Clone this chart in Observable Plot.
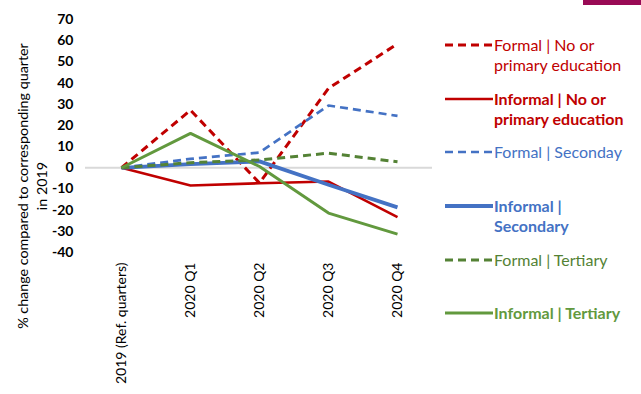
<!DOCTYPE html>
<html>
<head>
<meta charset="utf-8">
<script src="https://cdn.jsdelivr.net/npm/d3@7"></script>
<script src="https://cdn.jsdelivr.net/npm/@observablehq/plot@0.6"></script>
<style>
  html, body { margin:0; padding:0; background:#fff; }
  #wrap { position:relative; width:641px; height:394px; overflow:hidden; font-family: Lato, "Open Sans", sans-serif; }
  .leg { position:absolute; left:494px; font-size:16px; line-height:20px; white-space:nowrap; }
  .legline { position:absolute; left:445px; }
  #ytitle { position:absolute; width:320px; left:-128.5px; top:167px; line-height:19px; font-size:14.3px; text-align:center; transform:rotate(-90deg); transform-origin:center center; color:#000; }
  #topbar { position:absolute; left:583px; top:0; width:58px; height:5px; background:#990a55; }
</style>
</head>
<body>
<div id="wrap"></div>
<script>
const categories = ["2019 (Ref. quarters)", "2020 Q1", "2020 Q2", "2020 Q3", "2020 Q4"];
const formalNoPrimary   = [0, 27.2, -7.2, 37.5, 58.5];
const informalNoPrimary = [0, -8.4, -7.3, -6.5, -23.3];
const formalSecondary   = [0, 4.2, 7.2, 29.4, 24.5];
const informalSecondary = [0, 1.7, 3.0, -8.0, -18.7];
const formalTertiary    = [0, 2.4, 3.7, 6.9, 2.8];
const informalTertiary  = [0, 16.2, 0.6, -21.4, -31.3];
const yTicks = [-40, -30, -20, -10, 0, 10, 20, 30, 40, 50, 60, 70];
const seriesNames = ["Formal | No or primary education", "Informal | No or primary education", "Formal | Seconday", "Informal | Secondary", "Formal | Tertiary", "Informal | Tertiary"];
const seriesValues = [formalNoPrimary, informalNoPrimary, formalSecondary, informalSecondary, formalTertiary, informalTertiary];
const seriesColors = ["#C00000", "#C00000", "#4472C4", "#4472C4", "#548235", "#62993E"];
const seriesDash = ["8,5", null, "8,5", null, "8,5", null];
const seriesWidth = [3, 2.6, 2.7, 3.8, 3, 3];

const data = seriesNames.flatMap((name, s) => seriesValues[s].map((v, i) => ({name, cat: categories[i], value: v})));

const lines = seriesNames.map((name, s) => Plot.lineY(data.filter(d => d.name === name), {
  x: "cat", y: "value",
  stroke: seriesColors[s],
  strokeWidth: seriesWidth[s],
  strokeDasharray: seriesDash[s] || undefined,
  strokeLinejoin: "miter",
  strokeLinecap: "butt"
}));

const chart = Plot.plot({
  width: 641, height: 394,
  marginLeft: 85, marginRight: 209, marginTop: 19, marginBottom: 142,
  style: { fontFamily: "Lato, 'Open Sans', sans-serif", background: "transparent", color: "#000" },
  x: { type: "point", domain: categories, padding: 0.5, label: null },
  y: { domain: [-40, 70], label: null },
  marks: [
    Plot.ruleY([0], { stroke: "#d9d9d9", strokeWidth: 2 }),
    Plot.axisY({ ticks: yTicks, tickSize: 0, tickPadding: 12, label: null, fontWeight: "bold", fontSize: 14, tickFormat: d => String(d) }),
    Plot.axisX({ tickSize: 0, tickRotate: -90, tickPadding: 10, label: null, fontSize: 14 }),
    ...lines
  ]
});

const wrap = document.getElementById("wrap");
wrap.appendChild(chart);

const bar = document.createElement("div"); bar.id = "topbar"; wrap.appendChild(bar);

const yt = document.createElement("div");
yt.id = "ytitle";
yt.innerHTML = "% change compared to corresponding quarter<br>in 2019";
wrap.appendChild(yt);

// legend
const legendLines = [
  ["Formal | No or", "primary education"],
  ["Informal | No or", "primary education"],
  ["Formal | Seconday"],
  ["Informal |", "Secondary"],
  ["Formal | Tertiary"],
  ["Informal | Tertiary"]
];
const legendY = [45, 99, 152, 206, 260, 313];
const legendBold = [false, true, false, true, false, true];
seriesNames.forEach((name, s) => {
  const cy = legendY[s];
  const sv = document.createElementNS("http://www.w3.org/2000/svg", "svg");
  sv.setAttribute("class", "legline");
  sv.setAttribute("width", 48); sv.setAttribute("height", 8);
  sv.style.top = (cy - 4) + "px";
  const ln = document.createElementNS("http://www.w3.org/2000/svg", "line");
  ln.setAttribute("x1", 0); ln.setAttribute("x2", 48); ln.setAttribute("y1", 4); ln.setAttribute("y2", 4);
  ln.setAttribute("stroke", seriesColors[s]);
  ln.setAttribute("stroke-width", seriesWidth[s]);
  if (seriesDash[s]) ln.setAttribute("stroke-dasharray", seriesDash[s]);
  sv.appendChild(ln);
  wrap.appendChild(sv);
  const t = document.createElement("div");
  t.className = "leg";
  t.style.top = (cy - 10) + "px";
  t.style.color = seriesColors[s];
  t.style.fontWeight = legendBold[s] ? "bold" : "normal";
  t.innerHTML = legendLines[s].join("<br>");
  wrap.appendChild(t);
});
</script>
</body>
</html>
